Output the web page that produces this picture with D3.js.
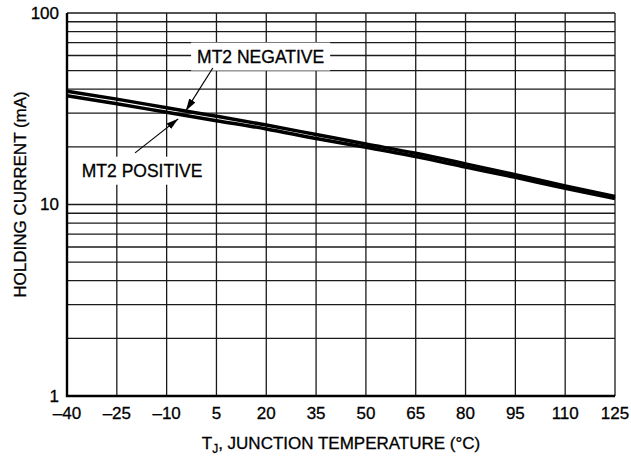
<!DOCTYPE html>
<html>
<head>
<meta charset="utf-8">
<script src="https://cdn.jsdelivr.net/npm/d3@7"></script>
<style>
    body { margin: 0; background: #fff; }
    text { font-family: "Liberation Sans", Arial, Helvetica, sans-serif; fill: #000; stroke: #000; stroke-width: 0.3; }
</style>
</head>
<body>
<div id="chart"></div>
<script>
// Junction temperature (deg C) and holding current (mA)
var temps = [-40, -25, -10, 5, 20, 35, 50, 65, 80, 95, 110, 125];
var mt2Negative = [39.0, 35.5, 32.0, 28.9, 26.0, 23.2, 20.7, 18.5, 16.3, 14.3, 12.5, 11.0];
var mt2Positive = [37.0, 33.6, 30.3, 27.4, 24.8, 22.1, 19.9, 17.8, 15.7, 13.85, 12.15, 10.75];

// Axis ticks
var xTicks = [-40, -25, -10, 5, 20, 35, 50, 65, 80, 95, 110, 125];
var yTicks = [1, 10, 100];
var yGrid = [1, 2, 3, 4, 5, 6, 7, 8, 9, 10, 20, 30, 40, 50, 60, 70, 80, 90, 100];

// Curve labels: label anchor and arrow (from -> tip) in data units
var labelNames = ["MT2 NEGATIVE", "MT2 POSITIVE"];
var labelAt = [[18.3, 55.1], [-17.4, 13.97]];
var arrowFrom = [[3.9, 51.6], [-19.5, 18.6]];
var arrowTo = [[-4.2, 30.9], [-6.5, 28.0]];

var margin = { top: 13, right: 16, bottom: 62, left: 67 },
    width = 631 - margin.left - margin.right,
    height = 458 - margin.top - margin.bottom;

var svg = d3.select("#chart")
    .append("svg")
    .attr("width", 631)
    .attr("height", 458)
    .append("g")
    .attr("transform", "translate(" + margin.left + "," + margin.top + ")");

var x = d3.scaleLinear().domain([-40, 125]).range([0, width]);
var y = d3.scaleLog().domain([1, 100]).range([height, 0]);

// Grid
svg.selectAll(".hgrid")
    .data(yGrid)
    .enter().append("line")
    .attr("x1", 0).attr("x2", width)
    .attr("y1", function(d) { return y(d); })
    .attr("y2", function(d) { return y(d); })
    .attr("stroke", "#1a1a1a")
    .attr("stroke-width", 1.3);

svg.selectAll(".vgrid")
    .data(xTicks)
    .enter().append("line")
    .attr("y1", 0).attr("y2", height)
    .attr("x1", function(d) { return x(d); })
    .attr("x2", function(d) { return x(d); })
    .attr("stroke", "#1a1a1a")
    .attr("stroke-width", 1.3);

// Heavier left and bottom frame
svg.append("path")
    .attr("d", "M0,0V" + height + "H" + width)
    .attr("fill", "none")
    .attr("stroke", "#000")
    .attr("stroke-width", 2.4);

// Curves
var line = d3.line()
    .curve(d3.curveMonotoneX)
    .x(function(d, i) { return x(temps[i]); })
    .y(function(d) { return y(d); });

[mt2Negative, mt2Positive].forEach(function(s) {
    svg.append("path")
        .datum(s)
        .attr("d", line)
        .attr("fill", "none")
        .attr("stroke", "#000")
        .attr("stroke-width", 3.5);
});

// Arrow head
svg.append("defs").append("marker")
    .attr("id", "arrow")
    .attr("viewBox", "0 0 10 10")
    .attr("refX", 10).attr("refY", 5)
    .attr("markerWidth", 12).attr("markerHeight", 12)
    .attr("markerUnits", "userSpaceOnUse")
    .attr("orient", "auto")
    .append("path")
    .attr("d", "M0,2L10,5L0,8z")
    .attr("fill", "#000");

// Labels with white boxes, then arrows
labelNames.forEach(function(name, i) {
    var g = svg.append("g");
    var t = g.append("text")
        .attr("x", x(labelAt[i][0]))
        .attr("y", y(labelAt[i][1]))
        .attr("text-anchor", "middle")
        .style("font-size", "17.5px")
        .text(name);
    var bb = t.node().getBBox();
    g.insert("rect", "text")
        .attr("x", bb.x - 6)
        .attr("y", bb.y - 4)
        .attr("width", bb.width + 12)
        .attr("height", bb.height + 8)
        .attr("fill", "#fff");

    svg.append("line")
        .attr("x1", x(arrowFrom[i][0])).attr("y1", y(arrowFrom[i][1]))
        .attr("x2", x(arrowTo[i][0])).attr("y2", y(arrowTo[i][1]))
        .attr("stroke", "#000")
        .attr("stroke-width", 1.2)
        .attr("marker-end", "url(#arrow)");
});

// Tick labels
svg.selectAll(".xlab")
    .data(xTicks)
    .enter().append("text")
    .attr("x", function(d) { return x(d); })
    .attr("y", height + 23)
    .attr("text-anchor", "middle")
    .style("font-size", "17px")
    .text(function(d) { return d < 0 ? "\u2013" + Math.abs(d) : d; });

svg.selectAll(".ylab")
    .data(yTicks)
    .enter().append("text")
    .attr("x", -8)
    .attr("y", function(d) { return y(d); })
    .attr("dy", "0.35em")
    .attr("text-anchor", "end")
    .style("font-size", "17px")
    .text(function(d) { return d; });

// Axis titles
var xt = svg.append("text")
    .attr("x", width / 2)
    .attr("y", height + 53)
    .attr("text-anchor", "middle")
    .style("font-size", "17px");
xt.append("tspan").text("T");
xt.append("tspan").attr("dy", 4).style("font-size", "12px").text("J");
xt.append("tspan").attr("dy", -4).text(", JUNCTION TEMPERATURE (\u00B0C)");

svg.append("text")
    .attr("transform", "translate(-41," + (height / 2 - 10) + ") rotate(-90)")
    .attr("text-anchor", "middle")
    .style("font-size", "17px")
    .text("HOLDING CURRENT (mA)");
</script>
</body>
</html>
